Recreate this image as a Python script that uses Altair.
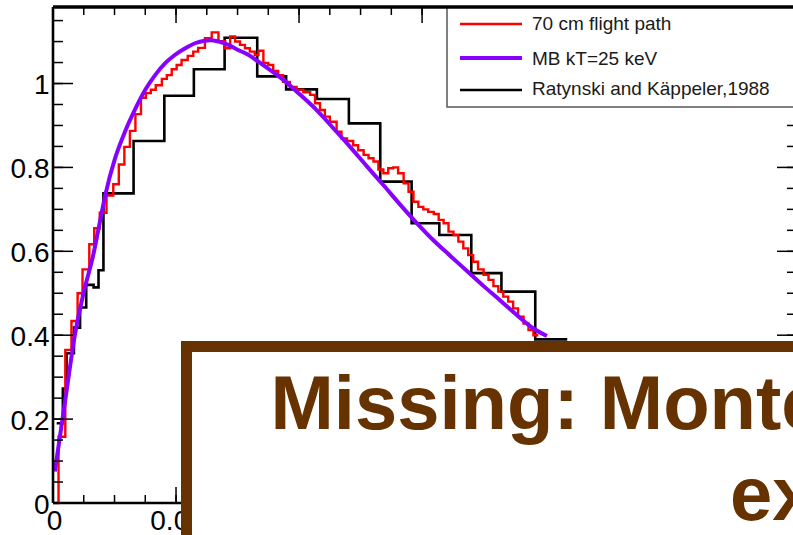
import altair as alt
import pandas as pd

# ---- data -----------------------------------------------------------------
# 70 cm flight path: histogram bin starts (MeV) and normalised counts
FLIGHT_BIN_START = [
    0.0000, 0.0009, 0.0020, 0.0030, 0.0040, 0.0048, 0.0059, 0.0067, 0.0076, 0.0087,
    0.0098, 0.0107, 0.0116, 0.0125, 0.0134, 0.0143, 0.0151, 0.0159, 0.0167, 0.0177,
    0.0185, 0.0193, 0.0201, 0.0209, 0.0219, 0.0228, 0.0236, 0.0247, 0.0258, 0.0269,
    0.0280, 0.0288, 0.0296, 0.0304, 0.0312, 0.0320, 0.0328, 0.0334, 0.0342, 0.0350,
    0.0358, 0.0366, 0.0374, 0.0385, 0.0396, 0.0407, 0.0418, 0.0426, 0.0434, 0.0442,
    0.0450, 0.0461, 0.0469, 0.0478, 0.0488, 0.0496, 0.0505, 0.0513, 0.0521, 0.0529,
    0.0537, 0.0545, 0.0553, 0.0561, 0.0570, 0.0578, 0.0586, 0.0594, 0.0602, 0.0610,
    0.0619, 0.0627, 0.0635, 0.0643, 0.0651, 0.0659, 0.0667, 0.0675, 0.0683, 0.0691,
    0.0700, 0.0708, 0.0716, 0.0724, 0.0732, 0.0740, 0.0748, 0.0756, 0.0765, 0.0773,
    0.0781,
]
FLIGHT_END = 0.0789
FLIGHT_VALUES = [
    0.000, 0.158, 0.365, 0.434, 0.500, 0.557, 0.617, 0.655, 0.692, 0.733,
    0.760, 0.807, 0.849, 0.887, 0.927, 0.966, 0.977, 0.985, 0.996, 1.011,
    1.020, 1.034, 1.044, 1.056, 1.066, 1.076, 1.085, 1.108, 1.122, 1.101,
    1.084, 1.112, 1.100, 1.092, 1.084, 1.076, 1.068, 1.078, 1.049, 1.044,
    1.030, 1.020, 1.004, 0.992, 0.985, 0.979, 0.973, 0.953, 0.937, 0.921,
    0.909, 0.885, 0.869, 0.863, 0.853, 0.841, 0.830, 0.822, 0.814, 0.795,
    0.786, 0.798, 0.800, 0.786, 0.762, 0.742, 0.718, 0.706, 0.700, 0.694,
    0.689, 0.675, 0.667, 0.647, 0.639, 0.623, 0.607, 0.591, 0.575, 0.557,
    0.544, 0.532, 0.517, 0.504, 0.492, 0.480, 0.464, 0.444, 0.428, 0.412,
    0.400,
]

# Maxwell-Boltzmann spectrum, kT = 25 keV
MB_ENERGY = [
    0.0003, 0.0020, 0.0036, 0.0049, 0.0066, 0.0079, 0.0085, 0.0101, 0.0117, 0.0133,
    0.0150, 0.0166, 0.0182, 0.0198, 0.0215, 0.0231, 0.0247, 0.0255, 0.0269, 0.0285,
    0.0301, 0.0318, 0.0334, 0.0375, 0.0402, 0.0429, 0.0456, 0.0483, 0.0510, 0.0537,
    0.0564, 0.0591, 0.0618, 0.0646, 0.0673, 0.0700, 0.0727, 0.0754, 0.0781, 0.0803,
]
MB_FLUX = [
    0.075, 0.246, 0.404, 0.496, 0.595, 0.691, 0.734, 0.822, 0.885, 0.937,
    0.985, 1.020, 1.048, 1.068, 1.084, 1.096, 1.102, 1.103, 1.100, 1.092,
    1.080, 1.068, 1.052, 1.008, 0.973, 0.936, 0.893, 0.849, 0.803, 0.758,
    0.712, 0.668, 0.627, 0.589, 0.553, 0.517, 0.483, 0.448, 0.416, 0.398,
]

# Ratynski and Kaeppeler (1988) histogram
RK_BIN_START = [
    0.0006, 0.0016, 0.0022, 0.0034, 0.0044, 0.0054, 0.0066, 0.0074, 0.0082, 0.0131,
    0.0181, 0.0229, 0.0279, 0.0332, 0.0379, 0.0429, 0.0481, 0.0532, 0.0583, 0.0628,
    0.0680, 0.0729, 0.0784,
]
RK_END = 0.0836
RK_VALUES = [
    0.190, 0.273, 0.357, 0.418, 0.466, 0.520, 0.514, 0.555, 0.738, 0.863,
    0.971, 1.034, 1.109, 1.017, 0.986, 0.963, 0.905, 0.766, 0.667, 0.639,
    0.548, 0.504, 0.390,
]

SERIES = ["70 cm flight path", "MB kT=25 keV", "Ratynski and Käppeler,1988"]
COLORS = ["#ff0000", "#8800ff", "#000000"]
X_LABELS = [0, 0.02, 0.04, 0.06, 0.08, 0.1]
Y_LABELS = [0, 0.2, 0.4, 0.6, 0.8, 1.0]
X_MINOR = [round(0.005 * k, 3) for k in range(25)]
Y_MINOR = [round(0.05 * k, 2) for k in range(24)]
NOTE_LINES = ["Missing: Monte Carlo", "experiment"]

assert len(FLIGHT_BIN_START) == len(FLIGHT_VALUES)
assert len(RK_BIN_START) == len(RK_VALUES)
assert len(MB_ENERGY) == len(MB_FLUX)

# ---- layout ---------------------------------------------------------------
W, H = 740, 496
X_MAX = 0.1203
Y_MAX = 1.1824
FONT = "Liberation Sans, Arial, Helvetica, sans-serif"
BROWN = "#663300"


def step_frame(starts, end, values):
    rows = [{"x": s, "y": v} for s, v in zip(starts, values)]
    rows.append({"x": end, "y": values[-1]})
    return pd.DataFrame(rows)


xscale = alt.Scale(domain=[0, X_MAX], nice=False, zero=False)
yscale = alt.Scale(domain=[0, Y_MAX], nice=False, zero=False)

xaxis = alt.Axis(values=X_LABELS, format="~g", title=None, ticks=False, tickSize=0,
                 domain=False, grid=False, labelFont=FONT, labelFontSize=28,
                 labelColor="black", labelPadding=4, labelOffset=1, labelFlush=False,
                 labelOverlap=False, zindex=0)
yaxis = alt.Axis(values=Y_LABELS, format="~g", title=None, ticks=False, tickSize=0,
                 domain=False, grid=False, labelFont=FONT, labelFontSize=28,
                 labelColor="black", labelPadding=4, labelOffset=2,
                 labelOverlap=False, zindex=0)


def X(field):
    return alt.X(field, scale=xscale, axis=xaxis, title=None)


def Y(field):
    return alt.Y(field, scale=yscale, axis=yaxis, title=None)


one = pd.DataFrame({"k": [0]})

# histograms and curve
rk = alt.Chart(step_frame(RK_BIN_START, RK_END, RK_VALUES)).mark_line(
    interpolate="step-after", color=COLORS[2], strokeWidth=2.6, strokeJoin="miter"
).encode(x=X("x:Q"), y=Y("y:Q"))

flight = alt.Chart(step_frame(FLIGHT_BIN_START, FLIGHT_END, FLIGHT_VALUES)).mark_line(
    interpolate="step-after", color=COLORS[0], strokeWidth=2.4, strokeJoin="miter"
).encode(x=X("x:Q"), y=Y("y:Q"))

mb = alt.Chart(pd.DataFrame({"x": MB_ENERGY, "y": MB_FLUX})).mark_line(
    interpolate="monotone", color=COLORS[1], strokeWidth=4
).encode(x=X("x:Q"), y=Y("y:Q"))


# inward ticks on all four sides
def yticks(values, x0, x1):
    return alt.Chart(pd.DataFrame({"y": values})).mark_rule(
        color="black", strokeWidth=1.5
    ).encode(y=Y("y:Q"), x=alt.value(x0), x2=alt.value(x1))


def xticks(values, y0, y1):
    return alt.Chart(pd.DataFrame({"x": values})).mark_rule(
        color="black", strokeWidth=1.5
    ).encode(x=X("x:Q"), y=alt.value(y0), y2=alt.value(y1))


ticks = [
    yticks(Y_MINOR, 0, 10), yticks(Y_LABELS, 0, 20),
    yticks(Y_MINOR, 734, 744), yticks(Y_LABELS, 724, 744),
    xticks(X_MINOR, H, H - 8), xticks(X_LABELS, H, H - 16),
    xticks(X_MINOR, 0, 8), xticks(X_LABELS, 0, 16),
]

# legend
legend_box = alt.Chart(one).mark_rect(fill="white", stroke="#555555", strokeWidth=1.5).encode(
    x=alt.value(394), x2=alt.value(780), y=alt.value(0), y2=alt.value(100)
)
legend_layers = [legend_box]
for name, color, width, ly, ty in zip(SERIES, COLORS, [2.4, 4, 2.6], [17, 51, 83], [23, 58, 88]):
    legend_layers.append(
        alt.Chart(one).mark_rule(color=color, strokeWidth=width).encode(
            x=alt.value(407), x2=alt.value(469), y=alt.value(ly)
        )
    )
    legend_layers.append(
        alt.Chart(one).mark_text(
            text=name, align="left", baseline="alphabetic", font=FONT,
            fontSize=19, color="#1a1a1a"
        ).encode(x=alt.value(479), y=alt.value(ty))
    )

# frame (left, bottom, top)
frame = [
    alt.Chart(one).mark_rule(color="black", strokeWidth=2.6).encode(
        x=alt.value(0), y=alt.value(0), y2=alt.value(H)),
    alt.Chart(one).mark_rule(color="black", strokeWidth=2.6).encode(
        x=alt.value(0), x2=alt.value(W), y=alt.value(H)),
    alt.Chart(one).mark_rule(color="black", strokeWidth=3.5).encode(
        x=alt.value(0), x2=alt.value(W), y=alt.value(0)),
]

# brown note panel laid over the lower part of the plot
note_box = alt.Chart(one).mark_rect(fill="white", stroke=BROWN, strokeWidth=11).encode(
    x=alt.value(133.5), x2=alt.value(900), y=alt.value(339.5), y2=alt.value(700)
)
note1 = alt.Chart(one).mark_text(
    text=NOTE_LINES[0], align="left", baseline="alphabetic", font=FONT,
    fontWeight="bold", fontSize=76, color=BROWN
).encode(x=alt.value(217.5), y=alt.value(422))
note2 = alt.Chart(one).mark_text(
    text=NOTE_LINES[1], align="left", baseline="alphabetic", font=FONT,
    fontWeight="bold", fontSize=76, color=BROWN
).encode(x=alt.value(677), y=alt.value(513))

chart = alt.layer(
    rk, flight, mb, *ticks, *legend_layers, *frame, note_box, note1, note2
).properties(
    width=W, height=H,
    padding={"left": 53, "top": 7, "right": 0, "bottom": 32},
    autosize=alt.AutoSizeParams(type="none"),
    background="white",
).configure_view(stroke=None)

chart.save("out.html", embed_options={"renderer": "svg", "actions": False})
